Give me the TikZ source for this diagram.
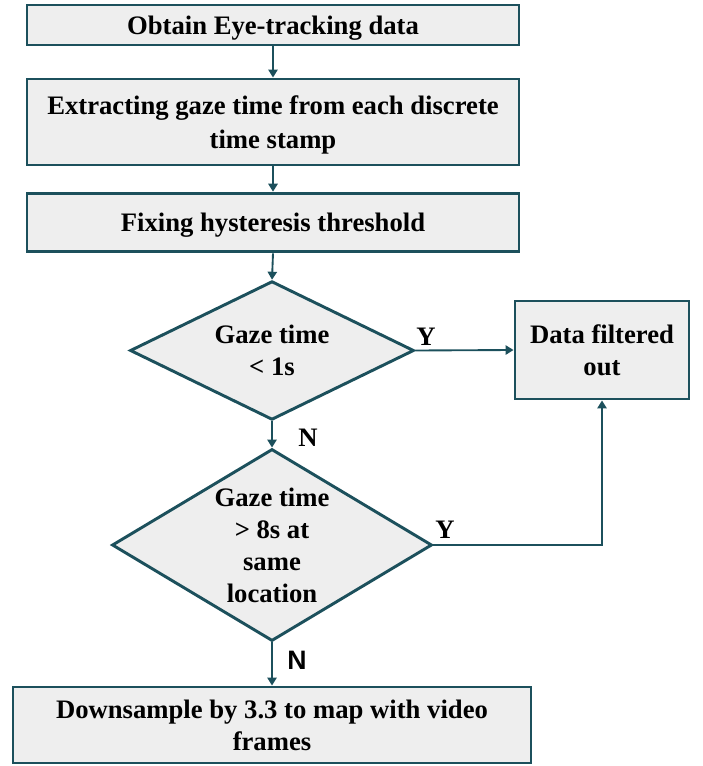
\documentclass[tikz,border=0pt]{standalone}
\usepackage{fontspec}
\setmainfont{Liberation Serif}
\newfontfamily\arialfont{Liberation Sans}
\usetikzlibrary{arrows.meta,shapes.geometric}

\definecolor{tealline}{RGB}{28,80,92}
\definecolor{boxfill}{RGB}{238,238,238}

\tikzset{
  stepbox/.style={draw=tealline, fill=boxfill, line width=2.2pt, inner sep=0pt,
    align=center, text depth=0pt, font=\bfseries\fontsize{20}{24}\selectfont},
  decision/.style={diamond, draw=tealline, fill=boxfill, line width=2.2pt, inner sep=0pt},
  decisiontext/.style={align=center, font=\bfseries\fontsize{20}{24}\selectfont},
  flow/.style={draw=tealline, line width=1.4pt, -{Triangle[width=7pt,length=6pt]}},
  answer/.style={font=\bfseries\fontsize{20}{24}\selectfont}
}

\begin{document}
\begin{tikzpicture}[x=0.75pt, y=-0.75pt]

\useasboundingbox (0,0) rectangle (702,766);

% process boxes
\node[stepbox, minimum width=369pt, minimum height=30pt] (obtain) at (273,25) {Obtain Eye-tracking data};
\node[stepbox, minimum width=369pt, minimum height=64.5pt, font=\bfseries\fontsize{20}{26}\selectfont] (extract) at (273,122) {Extracting gaze time from each discrete\\time stamp};
\node[stepbox, minimum width=369pt, minimum height=44pt] (fix) at (273,222.5) {Fixing hysteresis threshold};
\node[stepbox, minimum width=130.5pt, minimum height=73.5pt] (filtered) at (602,350) {Data filtered\\out};
\node[stepbox, minimum width=388.5pt, minimum height=57pt] (down) at (272,725) {Downsample by 3.3 to map with video\\frames};

% decisions
\node[decision, minimum width=213pt, minimum height=104pt] (short) at (272,350.5) {};
\node[decisiontext] at (short.center) {Gaze time\\< 1s};
\node[decision, minimum width=240pt, minimum height=144pt] (long) at (272,545) {};
\node[decisiontext] at (long.center) {Gaze time\\> 8s at\\same\\location};

% connectors
\draw[flow] (obtain) -- (extract);
\draw[flow] (extract) -- (fix);
\draw[flow] (fix.south) -- (short.north);
\draw[flow] (short.south) -- (long.north);
\draw[flow] (long.south) -- (down.north);
\draw[flow] (short.east) -- (filtered.west);
\draw[flow] (long.east) -| (filtered.south);

% answers
\node[answer] at (426,337) {Y};
\node[answer] at (445,530) {Y};
\node[answer] at (308,438) {N};
\node[answer, font=\arialfont\bfseries\fontsize{20}{24}\selectfont] at (297,660) {N};

\end{tikzpicture}
\end{document}
